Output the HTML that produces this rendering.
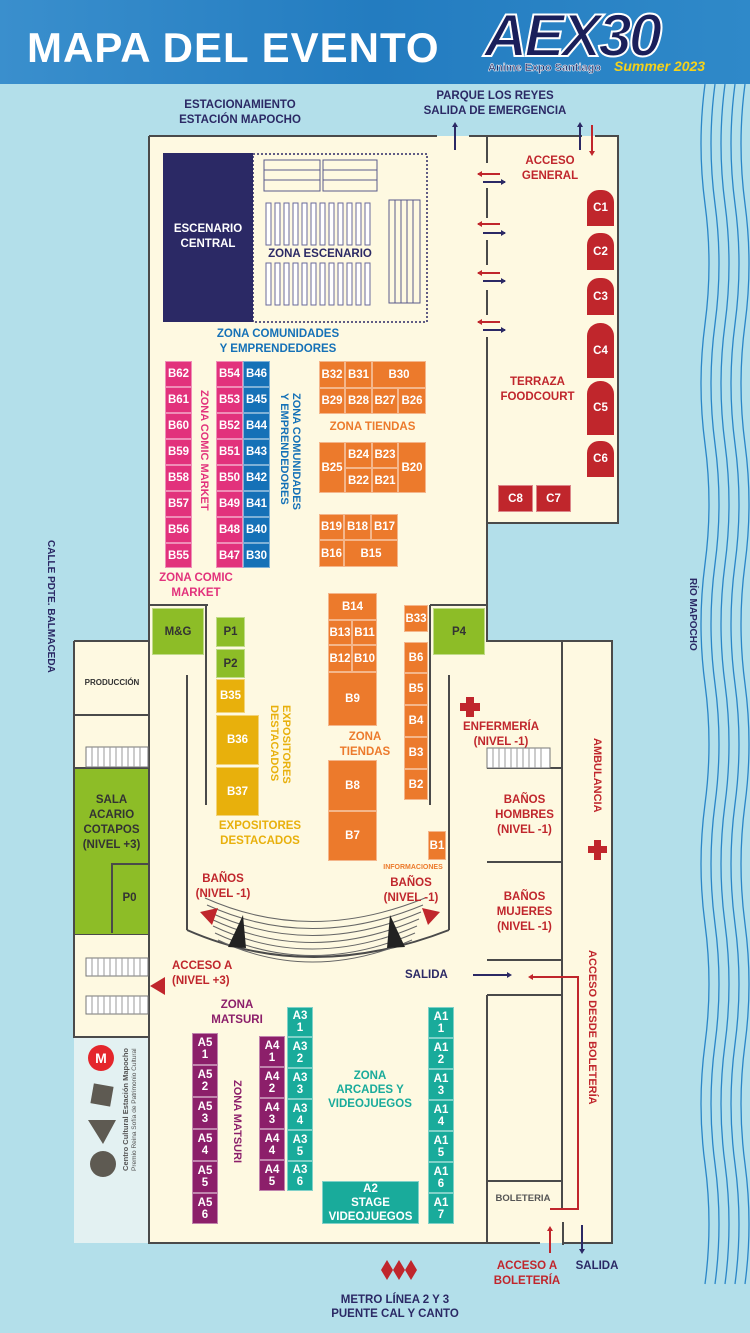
<!DOCTYPE html>
<html style="overflow:hidden"><head><meta charset="utf-8"><style>
*{margin:0;padding:0}
html,body{overflow:hidden}
body{width:750px;height:1333px;position:relative;overflow:hidden;background:#b3dfea;font-family:"Liberation Sans",sans-serif;font-weight:bold}
.a{position:absolute}
.b{position:absolute;color:#fff;font-size:11.5px;display:flex;align-items:center;justify-content:center;text-align:center;box-sizing:border-box;border:1px solid rgba(255,255,255,.45);line-height:12px}
.pk{background:#e2327c}.bl{background:#1571b7}.or{background:#ec7a2c}.ye{background:#e8b00c}.gr{background:#8dbd27;color:#333}.rd{background:#c0262c}.pu{background:#8c1f6a}.te{background:#19ab9b}
.t{position:absolute;text-align:center;font-size:11.5px;line-height:15px;white-space:nowrap}
.v{position:absolute;writing-mode:vertical-rl;font-size:11px;white-space:nowrap;line-height:12px}
</style></head><body>
<div class="a" style="left:0;top:0;width:750px;height:84px;background:linear-gradient(90deg,#3a8fcd,#237cc0 50%,#2f89c9)"></div>
<div class="a" style="left:27px;top:24px;color:#fff;font-size:42px;letter-spacing:1px;line-height:48px">MAPA DEL EVENTO</div>
<div class="a" style="left:484px;top:6px;font-size:60px;line-height:60px;color:#1a1f5a;font-style:italic;letter-spacing:-3px;-webkit-text-stroke:2px #fff;font-weight:900">AEX30</div>
<div class="a" style="left:488px;top:62px;font-size:11px;color:#1a1f5a;-webkit-text-stroke:0.5px #fff">Anime Expo Santiago</div>
<div class="a" style="left:614px;top:58px;font-size:14px;color:#f5d21a;font-style:italic">Summer 2023</div>

<svg class="a" style="left:0;top:0" width="750" height="1333">
<g fill="#fef9e1">
<rect x="149" y="136" width="469" height="387"/>
<rect x="149" y="136" width="338" height="1107"/>
<rect x="74" y="641" width="75" height="396"/>
<rect x="487" y="641" width="125" height="602"/>
</g>
<rect x="74" y="1037" width="75" height="206" fill="#e3f1f2"/>
<g stroke="#4a4a4a" stroke-width="2" fill="none">
<path d="M149 136V1243H540M564 1243H612V641H487V523H618V136H595M582 136H469M437 136H149"/>
<path d="M487 137V163M487 188V218M487 240V265M487 290V315M487 337V523"/>
<path d="M74 641H149M74 641V1037H149M74 715H149M74 768H149M74 934H149M110 862V934M110 862H149"/>
<path d="M562 641V1210M487 768H562M487 862H562M487 960H562M487 995H562M487 995V1243M487 1181H562"/>
<path d="M149 605H208M430 605H487M206 605V805M430 605V805M187 675V930M449 675V930"/>
<path d="M187 930Q310 984 449 930"/>
<path d="M563 1222V1245"/>
</g>
<g fill="#fff" stroke="#777" stroke-width="1">
<rect x="86" y="747" width="62" height="20"/><rect x="86" y="958" width="62" height="18"/><rect x="86" y="996" width="62" height="18"/><rect x="487" y="748" width="63" height="20"/>
</g>
<g stroke="#999" stroke-width="1">
<path d="M92 747v20M98 747v20M104 747v20M110 747v20M116 747v20M122 747v20M128 747v20M134 747v20M140 747v20
M92 958v18M98 958v18M104 958v18M110 958v18M116 958v18M122 958v18M128 958v18M134 958v18M140 958v18
M92 996v18M98 996v18M104 996v18M110 996v18M116 996v18M122 996v18M128 996v18M134 996v18M140 996v18
M493 748v20M499 748v20M505 748v20M511 748v20M517 748v20M523 748v20M529 748v20M535 748v20M541 748v20"/>
</g>
<rect x="163" y="153" width="90" height="169" fill="#2b2965"/>
<rect x="253" y="154" width="174" height="168" fill="none" stroke="#2b2965" stroke-width="1.5" stroke-dasharray="2 2"/>
<g fill="none" stroke="#5a5a8a" stroke-width="1">
<rect x="264" y="160" width="56" height="31"/><rect x="323" y="160" width="54" height="31"/>
<path d="M264 170H320M264 180H320M323 170H377M323 180H377"/>
<rect x="389" y="200" width="31" height="103"/><path d="M395 200V303M401 200V303M407 200V303M413 200V303"/>
</g>
<g fill="#fff" stroke="#6a6a9a" stroke-width="1">
<rect x="266" y="203" width="5" height="42"/><rect x="275" y="203" width="5" height="42"/><rect x="284" y="203" width="5" height="42"/><rect x="293" y="203" width="5" height="42"/><rect x="302" y="203" width="5" height="42"/><rect x="311" y="203" width="5" height="42"/><rect x="320" y="203" width="5" height="42"/><rect x="329" y="203" width="5" height="42"/><rect x="338" y="203" width="5" height="42"/><rect x="347" y="203" width="5" height="42"/><rect x="356" y="203" width="5" height="42"/><rect x="365" y="203" width="5" height="42"/>
<rect x="266" y="263" width="5" height="42"/><rect x="275" y="263" width="5" height="42"/><rect x="284" y="263" width="5" height="42"/><rect x="293" y="263" width="5" height="42"/><rect x="302" y="263" width="5" height="42"/><rect x="311" y="263" width="5" height="42"/><rect x="320" y="263" width="5" height="42"/><rect x="329" y="263" width="5" height="42"/><rect x="338" y="263" width="5" height="42"/><rect x="347" y="263" width="5" height="42"/><rect x="356" y="263" width="5" height="42"/><rect x="365" y="263" width="5" height="42"/>
</g>
<g fill="none" stroke="#666" stroke-width="1">
<path d="M205 898Q310 945 425 898M207 905Q310 952 423 905M209 912Q310 959 421 912M211 919Q310 966 419 919M213 926Q310 972 417 926M215 933Q310 978 415 933M218 940Q310 984 412 940"/>
</g>
<path d="M228 947L243 915L246 948Z M405 947L390 915L387 948Z" fill="#222"/>
<path d="M200 912L218 908L212 925Z M440 912L422 908L428 925Z" fill="#c0262c"/>
<g stroke-width="2" fill="none">
<path d="M478 174H500M478 224H500M478 273H500M478 322H500" stroke="#c0262c"/>
<path d="M483 182H505M483 233H505M483 281H505M483 330H505" stroke="#2b2965"/>
<path d="M455 150V126M580 150V126" stroke="#2b2965"/>
<path d="M592 125V152" stroke="#c0262c"/>
<path d="M473 975H508" stroke="#2b2965"/>
<path d="M530 977H578V1209H550" stroke="#c0262c"/>
<path d="M550 1253V1230" stroke="#c0262c"/>
<path d="M582 1225V1250" stroke="#2b2965"/>
</g>
<g fill="#c0262c"><path d="M477 174l5-3v6zM477 224l5-3v6zM477 273l5-3v6zM477 322l5-3v6zM592 156l-3-5h6zM528 977l5-3v6zM550 1226l-3 5h6zM150 986l15-9v18z"/></g>
<g fill="#2b2965"><path d="M506 182l-5-3v6zM506 233l-5-3v6zM506 281l-5-3v6zM506 330l-5-3v6zM455 122l-3 5h6zM580 122l-3 5h6zM512 975l-5-3v6zM582 1254l-3-5h6z"/></g>
<g fill="#c0262c"><rect x="466" y="697" width="8" height="20"/><rect x="460" y="703" width="20" height="8"/><rect x="594" y="840" width="7" height="20"/><rect x="588" y="846" width="19" height="7"/>
<path d="M381 1270l6-10 6 10-6 10zM393 1270l6-10 6 10-6 10zM405 1270l6-10 6 10-6 10z"/></g>
<circle cx="101" cy="1058" r="13" fill="#e4262c"/><text x="101" y="1063" fill="#fff" font-size="14" text-anchor="middle" font-family="Liberation Sans" font-weight="bold">M</text>
<rect x="92" y="1085" width="20" height="20" fill="#5e5a52" transform="rotate(10 102 1095)"/>
<path d="M88 1120H116L103 1144Z" fill="#5e5a52"/>
<circle cx="103" cy="1164" r="13" fill="#5e5a52"/>
<g fill="none" stroke="#2a86c8" stroke-width="1.3">
<path d="M705 84q-8 60 0 120t0 120 0 120 0 120 0 120 0 120 0 120 0 120 0 120 0 120"/>
<path d="M715 84q-8 60 0 120t0 120 0 120 0 120 0 120 0 120 0 120 0 120 0 120 0 120"/>
<path d="M725 84q-8 60 0 120t0 120 0 120 0 120 0 120 0 120 0 120 0 120 0 120 0 120"/>
<path d="M735 84q-8 60 0 120t0 120 0 120 0 120 0 120 0 120 0 120 0 120 0 120 0 120"/>
<path d="M745 84q-8 60 0 120t0 120 0 120 0 120 0 120 0 120 0 120 0 120 0 120 0 120"/>
</g>
</svg>

<div class="t" style="left:160px;top:98px;width:160px;color:#2b2965">ESTACIONAMIENTO<br>ESTACIÓN MAPOCHO</div>
<div class="t" style="left:405px;top:89px;width:180px;color:#2b2965">PARQUE LOS REYES<br>SALIDA DE EMERGENCIA</div>
<div class="t" style="left:163px;top:222px;width:90px;color:#fff">ESCENARIO<br>CENTRAL</div>
<div class="t" style="left:255px;top:247px;width:130px;color:#2b2965">ZONA ESCENARIO</div>
<div class="t" style="left:190px;top:327px;width:176px;color:#1571b7">ZONA COMUNIDADES<br>Y EMPRENDEDORES</div>
<div class="t" style="left:505px;top:154px;width:90px;color:#c0262c">ACCESO<br>GENERAL</div>
<div class="t" style="left:490px;top:375px;width:95px;color:#c0262c">TERRAZA<br>FOODCOURT</div>

<div class="b pk" style="left:165px;top:361px;width:27px;height:26px">B62</div>
<div class="b pk" style="left:165px;top:387px;width:27px;height:26px">B61</div>
<div class="b pk" style="left:165px;top:413px;width:27px;height:26px">B60</div>
<div class="b pk" style="left:165px;top:439px;width:27px;height:26px">B59</div>
<div class="b pk" style="left:165px;top:465px;width:27px;height:26px">B58</div>
<div class="b pk" style="left:165px;top:491px;width:27px;height:26px">B57</div>
<div class="b pk" style="left:165px;top:517px;width:27px;height:26px">B56</div>
<div class="b pk" style="left:165px;top:543px;width:27px;height:25px">B55</div>
<div class="b pk" style="left:216px;top:361px;width:27px;height:26px">B54</div>
<div class="b pk" style="left:216px;top:387px;width:27px;height:26px">B53</div>
<div class="b pk" style="left:216px;top:413px;width:27px;height:26px">B52</div>
<div class="b pk" style="left:216px;top:439px;width:27px;height:26px">B51</div>
<div class="b pk" style="left:216px;top:465px;width:27px;height:26px">B50</div>
<div class="b pk" style="left:216px;top:491px;width:27px;height:26px">B49</div>
<div class="b pk" style="left:216px;top:517px;width:27px;height:26px">B48</div>
<div class="b pk" style="left:216px;top:543px;width:27px;height:25px">B47</div>
<div class="b bl" style="left:243px;top:361px;width:27px;height:26px">B46</div>
<div class="b bl" style="left:243px;top:387px;width:27px;height:26px">B45</div>
<div class="b bl" style="left:243px;top:413px;width:27px;height:26px">B44</div>
<div class="b bl" style="left:243px;top:439px;width:27px;height:26px">B43</div>
<div class="b bl" style="left:243px;top:465px;width:27px;height:26px">B42</div>
<div class="b bl" style="left:243px;top:491px;width:27px;height:26px">B41</div>
<div class="b bl" style="left:243px;top:517px;width:27px;height:26px">B40</div>
<div class="b bl" style="left:243px;top:543px;width:27px;height:25px">B30</div>
<div class="v" style="left:198px;top:390px;color:#e2327c">ZONA COMIC MARKET</div>
<div class="v" style="left:278px;top:393px;color:#1571b7;line-height:12px">ZONA COMUNIDADES<br>Y EMPRENDEDORES</div>
<div class="t" style="left:150px;top:571px;width:92px;color:#e2327c">ZONA COMIC<br>MARKET</div>

<div class="b or" style="left:319px;top:361px;width:26px;height:27px">B32</div>
<div class="b or" style="left:345px;top:361px;width:27px;height:27px">B31</div>
<div class="b or" style="left:372px;top:361px;width:54px;height:27px">B30</div>
<div class="b or" style="left:319px;top:388px;width:26px;height:26px">B29</div>
<div class="b or" style="left:345px;top:388px;width:27px;height:26px">B28</div>
<div class="b or" style="left:372px;top:388px;width:26px;height:26px">B27</div>
<div class="b or" style="left:398px;top:388px;width:28px;height:26px">B26</div>
<div class="t" style="left:315px;top:420px;width:115px;color:#ec7a2c">ZONA TIENDAS</div>
<div class="b or" style="left:319px;top:442px;width:26px;height:51px">B25</div>
<div class="b or" style="left:345px;top:442px;width:27px;height:26px">B24</div>
<div class="b or" style="left:372px;top:442px;width:26px;height:26px">B23</div>
<div class="b or" style="left:345px;top:468px;width:27px;height:25px">B22</div>
<div class="b or" style="left:372px;top:468px;width:26px;height:25px">B21</div>
<div class="b or" style="left:398px;top:442px;width:28px;height:51px">B20</div>
<div class="b or" style="left:319px;top:514px;width:25px;height:26px">B19</div>
<div class="b or" style="left:344px;top:514px;width:27px;height:26px">B18</div>
<div class="b or" style="left:371px;top:514px;width:27px;height:26px">B17</div>
<div class="b or" style="left:319px;top:540px;width:25px;height:27px">B16</div>
<div class="b or" style="left:344px;top:540px;width:54px;height:27px">B15</div>

<div class="b rd" style="left:587px;top:190px;width:27px;height:36px;border-radius:12px 12px 0 0;border:0">C1</div>
<div class="b rd" style="left:587px;top:233px;width:27px;height:37px;border-radius:12px 12px 0 0;border:0">C2</div>
<div class="b rd" style="left:587px;top:278px;width:27px;height:37px;border-radius:12px 12px 0 0;border:0">C3</div>
<div class="b rd" style="left:587px;top:323px;width:27px;height:55px;border-radius:13px 13px 0 0;border:0">C4</div>
<div class="b rd" style="left:587px;top:381px;width:27px;height:54px;border-radius:13px 13px 0 0;border:0">C5</div>
<div class="b rd" style="left:587px;top:441px;width:27px;height:36px;border-radius:12px 12px 0 0;border:0">C6</div>
<div class="b rd" style="left:498px;top:485px;width:35px;height:27px">C8</div>
<div class="b rd" style="left:536px;top:485px;width:35px;height:27px">C7</div>

<div class="b gr" style="left:152px;top:608px;width:52px;height:47px">M&amp;G</div>
<div class="b gr" style="left:433px;top:608px;width:52px;height:47px">P4</div>
<div class="b gr" style="left:216px;top:617px;width:29px;height:30px">P1</div>
<div class="b gr" style="left:216px;top:649px;width:29px;height:29px">P2</div>
<div class="b ye" style="left:216px;top:679px;width:29px;height:34px">B35</div>
<div class="b ye" style="left:216px;top:715px;width:43px;height:50px">B36</div>
<div class="b ye" style="left:216px;top:767px;width:43px;height:49px">B37</div>
<div class="v" style="left:268px;top:705px;color:#e8b00c;line-height:12px">EXPOSITORES<br>DESTACADOS</div>
<div class="t" style="left:205px;top:819px;width:110px;color:#e8b00c">EXPOSITORES<br>DESTACADOS</div>
<div class="b or" style="left:328px;top:593px;width:49px;height:27px">B14</div>
<div class="b or" style="left:328px;top:620px;width:24px;height:25px">B13</div>
<div class="b or" style="left:352px;top:620px;width:25px;height:25px">B11</div>
<div class="b or" style="left:328px;top:645px;width:24px;height:27px">B12</div>
<div class="b or" style="left:352px;top:645px;width:25px;height:27px">B10</div>
<div class="b or" style="left:328px;top:672px;width:49px;height:54px">B9</div>
<div class="t" style="left:330px;top:730px;width:70px;color:#ec7a2c">ZONA<br>TIENDAS</div>
<div class="b or" style="left:328px;top:760px;width:49px;height:51px">B8</div>
<div class="b or" style="left:328px;top:811px;width:49px;height:50px">B7</div>
<div class="b or" style="left:404px;top:605px;width:24px;height:27px">B33</div>
<div class="b or" style="left:404px;top:642px;width:24px;height:31px">B6</div>
<div class="b or" style="left:404px;top:673px;width:24px;height:32px">B5</div>
<div class="b or" style="left:404px;top:705px;width:24px;height:32px">B4</div>
<div class="b or" style="left:404px;top:737px;width:24px;height:32px">B3</div>
<div class="b or" style="left:404px;top:769px;width:24px;height:31px">B2</div>
<div class="b or" style="left:428px;top:831px;width:18px;height:29px">B1</div>
<div class="t" style="left:373px;top:860px;width:80px;color:#ec7a2c;font-size:7px">INFORMACIONES</div>
<div class="t" style="left:78px;top:675px;width:68px;color:#333;font-size:8px">PRODUCCIÓN</div>
<div class="a" style="left:75px;top:769px;width:73px;height:165px;background:#8dbd27"></div>
<div class="a" style="left:111px;top:863px;width:37px;height:70px;background:#8dbd27;border-left:2px solid #4a4a4a;border-top:2px solid #4a4a4a;box-sizing:border-box"></div>
<div class="t" style="left:75px;top:793px;width:73px;color:#333">SALA<br>ACARIO<br>COTAPOS<br>(NIVEL +3)</div>
<div class="t" style="left:111px;top:891px;width:37px;color:#333">P0</div>
<div class="t" style="left:180px;top:872px;width:86px;color:#c0262c">BAÑOS<br>(NIVEL -1)</div>
<div class="t" style="left:368px;top:876px;width:86px;color:#c0262c">BAÑOS<br>(NIVEL -1)</div>
<div class="t" style="left:453px;top:720px;width:96px;color:#c0262c">ENFERMERÍA<br>(NIVEL -1)</div>
<div class="t" style="left:487px;top:793px;width:75px;color:#c0262c">BAÑOS<br>HOMBRES<br>(NIVEL -1)</div>
<div class="t" style="left:487px;top:890px;width:75px;color:#c0262c">BAÑOS<br>MUJERES<br>(NIVEL -1)</div>
<div class="v" style="left:591px;top:738px;color:#c0262c">AMBULANCIA</div>
<div class="v" style="left:586px;top:950px;color:#c0262c">ACCESO DESDE BOLETERÍA</div>
<div class="v" style="left:686px;top:578px;color:#2b2965;font-size:10px">RÍO MAPOCHO</div>
<div class="v" style="left:44px;top:540px;color:#2b2965;font-size:10px">CALLE PDTE. BALMACEDA</div>

<div class="a" style="left:172px;top:959px;color:#c0262c;font-size:11.5px;line-height:15px">ACCESO A<br>(NIVEL +3)</div>
<div class="t" style="left:200px;top:998px;width:74px;color:#8c1f6a">ZONA<br>MATSURI</div>
<div class="t" style="left:405px;top:968px;width:76px;color:#2b2965;text-align:left">SALIDA</div>
<div class="b pu" style="left:192px;top:1033px;width:26px;height:32px">A5<br>1</div>
<div class="b pu" style="left:192px;top:1065px;width:26px;height:32px">A5<br>2</div>
<div class="b pu" style="left:192px;top:1097px;width:26px;height:32px">A5<br>3</div>
<div class="b pu" style="left:192px;top:1129px;width:26px;height:32px">A5<br>4</div>
<div class="b pu" style="left:192px;top:1161px;width:26px;height:32px">A5<br>5</div>
<div class="b pu" style="left:192px;top:1193px;width:26px;height:31px">A5<br>6</div>
<div class="v" style="left:231px;top:1080px;color:#8c1f6a">ZONA MATSURI</div>
<div class="b pu" style="left:259px;top:1036px;width:26px;height:31px">A4<br>1</div>
<div class="b pu" style="left:259px;top:1067px;width:26px;height:31px">A4<br>2</div>
<div class="b pu" style="left:259px;top:1098px;width:26px;height:31px">A4<br>3</div>
<div class="b pu" style="left:259px;top:1129px;width:26px;height:31px">A4<br>4</div>
<div class="b pu" style="left:259px;top:1160px;width:26px;height:31px">A4<br>5</div>
<div class="b te" style="left:287px;top:1007px;width:26px;height:30px">A3<br>1</div>
<div class="b te" style="left:287px;top:1037px;width:26px;height:31px">A3<br>2</div>
<div class="b te" style="left:287px;top:1068px;width:26px;height:31px">A3<br>3</div>
<div class="b te" style="left:287px;top:1099px;width:26px;height:31px">A3<br>4</div>
<div class="b te" style="left:287px;top:1130px;width:26px;height:31px">A3<br>5</div>
<div class="b te" style="left:287px;top:1161px;width:26px;height:30px">A3<br>6</div>
<div class="b te" style="left:428px;top:1007px;width:26px;height:31px">A1<br>1</div>
<div class="b te" style="left:428px;top:1038px;width:26px;height:31px">A1<br>2</div>
<div class="b te" style="left:428px;top:1069px;width:26px;height:31px">A1<br>3</div>
<div class="b te" style="left:428px;top:1100px;width:26px;height:31px">A1<br>4</div>
<div class="b te" style="left:428px;top:1131px;width:26px;height:31px">A1<br>5</div>
<div class="b te" style="left:428px;top:1162px;width:26px;height:31px">A1<br>6</div>
<div class="b te" style="left:428px;top:1193px;width:26px;height:31px">A1<br>7</div>
<div class="t" style="left:318px;top:1069px;width:104px;color:#19ab9b;line-height:14px">ZONA<br>ARCADES Y<br>VIDEOJUEGOS</div>
<div class="b te" style="left:322px;top:1181px;width:97px;height:43px;line-height:14px">A2<br>STAGE<br>VIDEOJUEGOS</div>
<div class="t" style="left:487px;top:1191px;width:72px;color:#555;font-size:9.5px">BOLETERIA</div>
<div class="t" style="left:487px;top:1259px;width:80px;color:#c0262c">ACCESO A<br>BOLETERÍA</div>
<div class="t" style="left:572px;top:1259px;width:50px;color:#2b2965">SALIDA</div>
<div class="t" style="left:325px;top:1293px;width:140px;color:#2b2965;line-height:14px">METRO LÍNEA 2 Y 3<br>PUENTE CAL Y CANTO</div>
<div class="v" style="left:121px;top:1048px;color:#555;font-size:7.5px;line-height:9px;transform:rotate(180deg)">Centro Cultural Estación Mapocho<br><span style="font-weight:normal;font-size:6.5px">Premio Reina Sofía de Patrimonio Cultural</span></div>
</body></html>
